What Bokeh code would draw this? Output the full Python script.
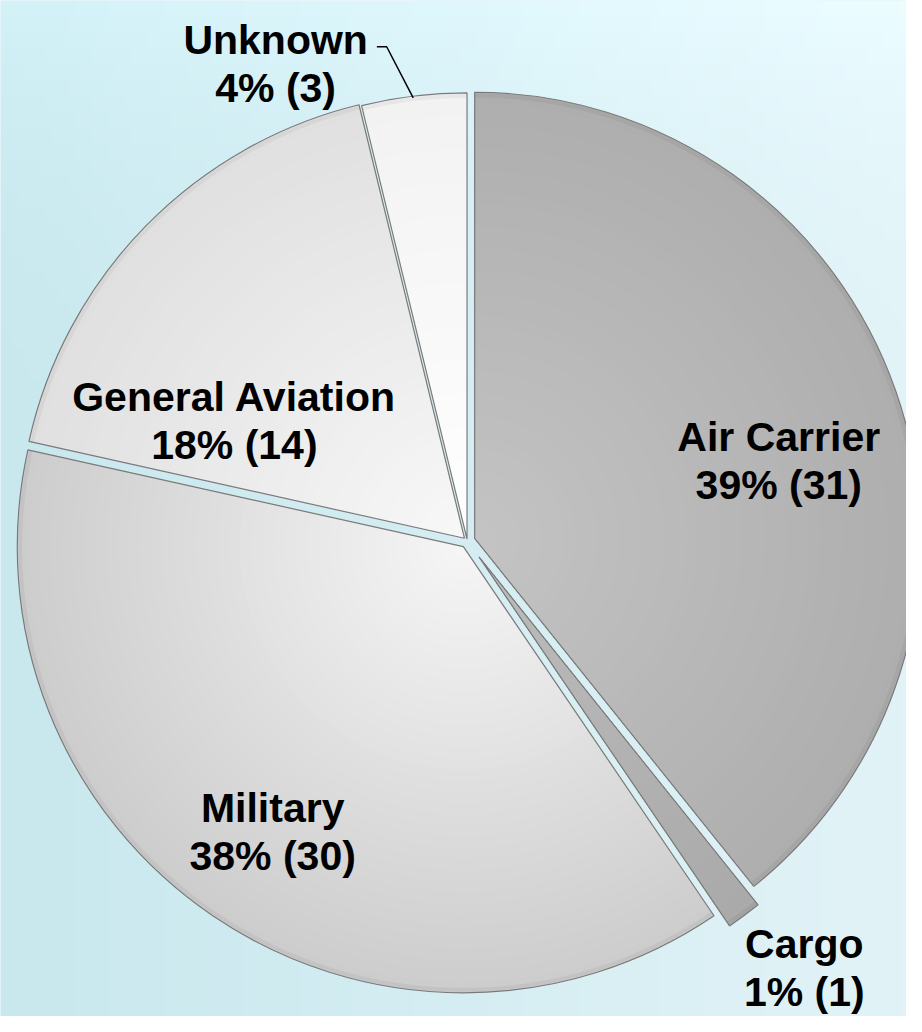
import numpy as np
from bokeh.plotting import figure
from bokeh.models import Range1d
from bokeh.core.properties import value
from bokeh.embed import file_html
from bokeh.resources import INLINE

# ---- data ----
categories = ["Air Carrier", "Cargo", "Military", "General Aviation", "Unknown"]
counts = [31, 1, 30, 14, 3]

# ---- layout / style (reference pixel coordinates, y downward) ----
CX, CY, R = 475.0, 549.0, 454.0
explode = [8, 20, 7, 4, 2]
inner_col = ["#c4c4c4", "#bcbcbc", "#f6f6f6", "#f8f8f8", "#ffffff"]
outer_col = ["#aeaeae", "#aaaaaa", "#cdcdcd", "#e0e0e0", "#f2f2f2"]
label_pos = [(792, 443), (818, 958), (277, 820), (238, 403), (280, 40)]
LINE_GAP = 49

H_PAGE = 1032
W_PAGE = 922


def Y(y):
    return H_PAGE - y


def hex2rgb(h):
    h = h.lstrip("#")
    return np.array([int(h[i:i + 2], 16) for i in (0, 2, 4)], dtype=float)


def rgb2hex(c):
    return "#%02x%02x%02x" % tuple(int(round(v)) for v in c)


p = figure(width=906, height=1016, x_range=Range1d(0, W_PAGE), y_range=Range1d(0, H_PAGE),
           output_backend="svg", toolbar_location=None, min_border=0)
p.axis.visible = False
p.grid.visible = False
p.outline_line_color = None
p.background_fill_color = "#d6eff3"
p.border_fill_color = "#d6eff3"

# background gradient
Hh, Ww = 64, 160
left = hex2rgb("#c8e8ee")
right = hex2rgb("#e2f3f7")
tx = np.linspace(0, 1, Ww)[None, :, None]
ty = np.linspace(0, 1, Hh)[:, None, None]  # 0 bottom, 1 top
base = left * (1 - tx) + right * tx
base = base + (ty ** 6) * 10.0
base = np.clip(base, 0, 255)
img = np.zeros((Hh, Ww), dtype=np.uint32)
view = img.view(dtype=np.uint8).reshape((Hh, Ww, 4))
view[:, :, 0] = base[:, :, 0]
view[:, :, 1] = base[:, :, 1]
view[:, :, 2] = base[:, :, 2]
view[:, :, 3] = 255
p.image_rgba(image=[img], x=0, y=0, dw=W_PAGE, dh=H_PAGE)

# ---- pie ----
total = float(sum(counts))
cum = np.cumsum([0] + counts)
N = 40
for i, c in enumerate(counts):
    th0 = cum[i] / total * 360.0
    th1 = cum[i + 1] / total * 360.0
    thm = np.radians((th0 + th1) / 2)
    vx = CX + explode[i] * np.sin(thm)
    vy = Y(CY) + explode[i] * np.cos(thm)
    sa = np.radians(90 - th1)
    ea = np.radians(90 - th0)
    ci = hex2rgb(inner_col[i])
    co = hex2rgb(outer_col[i])
    for k in range(N):
        f = k / N
        rad = R * (1 - f)
        col = co * (1 - f) + ci * f
        p.wedge(x=vx, y=vy, radius=rad, start_angle=sa, end_angle=ea,
                fill_color=rgb2hex(col), line_color=None)
    # bevel rim
    p.annular_wedge(x=vx, y=vy, inner_radius=R - 5, outer_radius=R - 1,
                    start_angle=sa, end_angle=ea,
                    fill_color=rgb2hex(co * 0.92), fill_alpha=0.6, line_color=None)
    p.wedge(x=vx, y=vy, radius=R, start_angle=sa, end_angle=ea,
            fill_color=None, line_color="#7a7a7a", line_width=1.2)

# ---- labels ----
pcts = [int(round(c / total * 100)) for c in counts]
xs, ys, txt = [], [], []
for i, name in enumerate(categories):
    lx, ly = label_pos[i]
    xs += [lx, lx]
    ys += [Y(ly), Y(ly + LINE_GAP)]
    txt += [name, "%d%% (%d)" % (pcts[i], counts[i])]
p.text(x=xs, y=ys, text=txt, text_font=value("Liberation Sans"), text_font_style="bold",
       text_font_size="41px", text_align="center", text_baseline="alphabetic",
       text_color="black")

# leader line for Unknown
p.line(x=[383, 393, 420], y=[Y(47), Y(47), Y(99)], line_color="black", line_width=1.5)

open("out.html", "w").write(file_html(p, INLINE))
